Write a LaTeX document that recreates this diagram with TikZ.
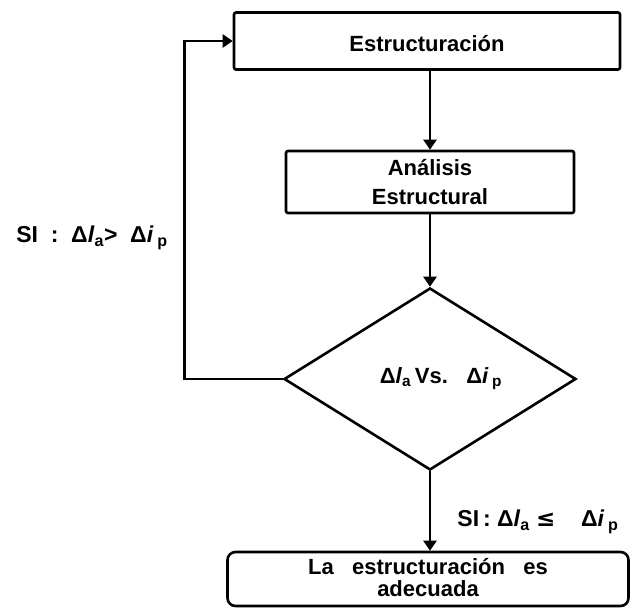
\documentclass[tikz,border=0pt]{standalone}
\usepackage{fontspec}
\setmainfont{Liberation Sans}
\newfontfamily\symfont{DejaVu Sans}
\usetikzlibrary{arrows.meta,shapes.geometric}
\newcommand{\sbs}[1]{\textsubscript{#1}}
\begin{document}
\begin{tikzpicture}[x=1pt,y=-1pt,line width=2.6pt,
  every node/.style={font=\fontsize{22}{29}\selectfont\bfseries},
  procbox/.style={draw,rectangle,rounded corners=2pt,inner sep=0pt,align=center},
  decision/.style={draw,diamond,inner sep=0pt,minimum width=292pt,minimum height=182pt},
  flow/.style={-{Triangle[length=10pt,width=13pt]}},
  branch/.style={font=\fontsize{23}{29}\selectfont\bfseries}]
\useasboundingbox (0,0) rectangle (636,607);

% process blocks
\node[procbox,minimum width=386pt,minimum height=57pt] (est) at (427,41) {};
\node (esttext) at (427,44) {Estructuración};
\node[procbox,minimum width=288pt,minimum height=62pt] (ana) at (430,182) {Análisis\\Estructural};
\node[decision] (dec) at (430,379) {};
\node (cmp) at (441,379) {Δ\textit{l}\sbs{a}\,Vs.\ \ \ Δ\textit{i}\,\sbs{p}};
\node[procbox,rounded corners=8pt,minimum width=401pt,minimum height=54pt] (res) at (428,579) {};
\node[align=center] (restext) at (428,578)
  {La\ \ \ estructuración\ \ \ es\\[-7pt]adecuada};

% connectors
\draw[flow] (est.south -| ana.north) -- (ana.north);
\draw[flow] (ana.south) -- (dec.north);
\draw[flow] (dec.west) -- ++(-98,0) coordinate (lc) |- (est.west);
\draw[flow] (dec.south) -- (dec.south |- res.north);

% branch labels
\node[branch] (lno) at (92,238) {SI\ \ :\ \ Δ\textit{l}\sbs{a}>\ \ Δ\textit{i}\,\sbs{p}};
\node[branch] (lyes) at (538,522) {SI\,:\ Δ\textit{l}\sbs{a}\ {\symfont\bfseries ≤}\ \ \ \ Δ\textit{i}\,\sbs{p}};
\end{tikzpicture}
\end{document}
